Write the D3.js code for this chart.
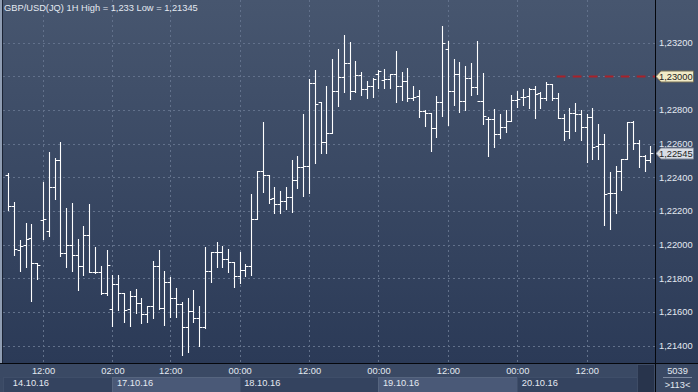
<!DOCTYPE html>
<html>
<head>
<meta charset="utf-8">
<script src="https://cdn.jsdelivr.net/npm/d3@7"></script>
<style>
html, body { margin: 0; padding: 0; background: #2e3d59; }
svg { display: block; font-family: "Liberation Sans", Arial, sans-serif; }
</style>
</head>
<body>
<svg width="698" height="392"></svg>
<script>
// GBP/USD 1H bars, 14.10.16 06:00 .. 20.10.16
const opens = [
	1.22414, 1.22229, 1.21968, 1.21996, 1.22038, 1.21889, 1.22146, 1.22081, 1.22340, 1.22501,
	1.21949, 1.21998, 1.21939, 1.21873, 1.22057, 1.21838, 1.21836, 1.21711, 1.21618, 1.21765,
	1.21711, 1.21616, 1.21694, 1.21652, 1.21587, 1.21632, 1.21872, 1.21622, 1.21778, 1.21682,
	1.21646, 1.21511, 1.21606, 1.21563, 1.21507, 1.21844, 1.21958, 1.21958, 1.21913, 1.21899,
	1.21814, 1.21848, 1.21873, 1.22151, 1.22437, 1.22412, 1.22275, 1.22240, 1.22259, 1.22281,
	1.22384, 1.22459, 1.22467, 1.22961, 1.22848, 1.22607, 1.22664, 1.22912, 1.22997, 1.23076,
	1.22912, 1.23007, 1.22922, 1.22942, 1.23010, 1.22977, 1.22981, 1.23013, 1.22942, 1.22970,
	1.22869, 1.22882, 1.22795, 1.22780, 1.22691, 1.22847, 1.23159, 1.22914, 1.23013, 1.22853,
	1.22991, 1.22937, 1.22854, 1.22744, 1.22746, 1.22655, 1.22697, 1.22734, 1.22859, 1.22878,
	1.22882, 1.22922, 1.22898, 1.22872, 1.22952, 1.22872, 1.22750, 1.22675, 1.22783, 1.22774,
	1.22700, 1.22756, 1.22586, 1.22596, 1.22305, 1.22308, 1.22437, 1.22510, 1.22730, 1.22602,
	1.22526, 1.22502
]
const highs = [
	1.22424, 1.22255, 1.22028, 1.22127, 1.22123, 1.21891, 1.22374, 1.22548, 1.22516, 1.22609,
	1.22216, 1.22245, 1.22034, 1.22111, 1.22240, 1.21986, 1.21873, 1.21968, 1.21818, 1.21818,
	1.21711, 1.21725, 1.21737, 1.21682, 1.21636, 1.21903, 1.21968, 1.21840, 1.21804, 1.21741,
	1.21656, 1.21682, 1.21731, 1.21636, 1.21984, 1.21958, 1.22014, 1.21992, 1.21974, 1.21899,
	1.21955, 1.21885, 1.22301, 1.22437, 1.22728, 1.22414, 1.22344, 1.22318, 1.22340, 1.22502,
	1.22526, 1.22775, 1.22983, 1.23037, 1.22848, 1.22943, 1.23102, 1.23161, 1.23244, 1.23205,
	1.23090, 1.23023, 1.22971, 1.22987, 1.23037, 1.23043, 1.23015, 1.23149, 1.23023, 1.23050,
	1.22942, 1.22918, 1.22799, 1.22780, 1.22882, 1.23300, 1.23209, 1.23102, 1.23082, 1.23060,
	1.23080, 1.23209, 1.23017, 1.22759, 1.22803, 1.22774, 1.22799, 1.22888, 1.22912, 1.22924,
	1.22928, 1.22942, 1.22908, 1.22967, 1.22952, 1.22902, 1.22774, 1.22813, 1.22839, 1.22799,
	1.22774, 1.22809, 1.22714, 1.22657, 1.22433, 1.22467, 1.22507, 1.22730, 1.22734, 1.22621,
	1.22532, 1.22586
]
const lows = [
	1.22206, 1.21939, 1.21840, 1.21869, 1.21667, 1.21798, 1.22032, 1.22051, 1.22271, 1.21929,
	1.21869, 1.21845, 1.21727, 1.21816, 1.21834, 1.21830, 1.21707, 1.21701, 1.21517, 1.21612,
	1.21537, 1.21517, 1.21593, 1.21533, 1.21537, 1.21563, 1.21616, 1.21523, 1.21572, 1.21569,
	1.21345, 1.21359, 1.21537, 1.21400, 1.21505, 1.21775, 1.21869, 1.21869, 1.21834, 1.21750,
	1.21771, 1.21810, 1.21816, 1.22151, 1.22314, 1.22245, 1.22190, 1.22190, 1.22212, 1.22196,
	1.22334, 1.22291, 1.22308, 1.22483, 1.22542, 1.22542, 1.22664, 1.22825, 1.22908, 1.22864,
	1.22908, 1.22888, 1.22872, 1.22878, 1.22932, 1.22928, 1.22928, 1.22848, 1.22859, 1.22853,
	1.22859, 1.22756, 1.22704, 1.22558, 1.22641, 1.22764, 1.22710, 1.22829, 1.22789, 1.22799,
	1.22888, 1.22892, 1.22714, 1.22528, 1.22581, 1.22631, 1.22667, 1.22734, 1.22815, 1.22829,
	1.22809, 1.22750, 1.22813, 1.22859, 1.22859, 1.22750, 1.22621, 1.22631, 1.22675, 1.22621,
	1.22492, 1.22508, 1.22508, 1.22117, 1.22093, 1.22186, 1.22324, 1.22507, 1.22566, 1.22463,
	1.22439, 1.22492
]
const closes = [
	1.22229, 1.21972, 1.21992, 1.22035, 1.21889, 1.21879, 1.22152, 1.22340, 1.22501, 1.21949,
	1.21998, 1.21939, 1.21873, 1.22057, 1.21838, 1.21836, 1.21711, 1.21877, 1.21765, 1.21711,
	1.21612, 1.21694, 1.21652, 1.21587, 1.21632, 1.21872, 1.21622, 1.21778, 1.21682, 1.21646,
	1.21511, 1.21606, 1.21563, 1.21507, 1.21844, 1.21958, 1.21958, 1.21913, 1.21899, 1.21810,
	1.21848, 1.21873, 1.22151, 1.22437, 1.22412, 1.22269, 1.22240, 1.22259, 1.22281, 1.22384,
	1.22459, 1.22467, 1.22961, 1.22835, 1.22607, 1.22664, 1.22912, 1.22997, 1.23076, 1.22912,
	1.23007, 1.22922, 1.22942, 1.22981, 1.23030, 1.22981, 1.23013, 1.22942, 1.22970, 1.22869,
	1.22878, 1.22795, 1.22780, 1.22691, 1.22847, 1.23195, 1.22914, 1.23013, 1.22853, 1.22991,
	1.22937, 1.22854, 1.22765, 1.22746, 1.22655, 1.22697, 1.22734, 1.22859, 1.22863, 1.22878,
	1.22922, 1.22892, 1.22872, 1.22952, 1.22869, 1.22750, 1.22675, 1.22780, 1.22774, 1.22700,
	1.22756, 1.22581, 1.22596, 1.22299, 1.22308, 1.22437, 1.22507, 1.22730, 1.22602, 1.22526,
	1.22502, 1.22545
]

const priceTicks = [1.214, 1.216, 1.218, 1.220, 1.222, 1.224, 1.226, 1.228, 1.230, 1.232]
const timeTickBars = [6, 18, 28, 40, 52, 64, 76, 88, 100]
const timeTickLabels = ['12:00', '02:00', '12:00', '00:00', '12:00', '00:00', '12:00', '00:00', '12:00']
const dayStartBars = [0, 18, 40, 64, 88]
const dayLabels = ['14.10.16', '17.10.16', '18.10.16', '19.10.16', '20.10.16']
const alertLevel = 1.23
const alertFromBar = 95
const titleText = 'GBP/USD(JQ) 1H High = 1,233 Low = 1,21345'

let config = {
	width: 698,
	height: 392,
	plotLeft: 3,
	plotRight: 655,
	plotBottom: 363,
	fontSize: 9.3,
	textColor: '#e4e9f1',
}

const svg = d3.select('svg')
const fmtPrice = d => d3.format('.5f')(d).replace('.', ',')

function createScales() {
	config.xScale = d3.scaleLinear()
		.domain([0, closes.length - 1])
		.range([8.3, 650.3])
	config.yScale = d3.scaleLinear()
		.domain([priceTicks[0], priceTicks[priceTicks.length - 1]])
		.range([345.5, 42.5])
}

function drawBackground() {
	let defs = svg.append('defs')
	let grad = defs.append('linearGradient')
		.attr('id', 'bg').attr('x1', 0).attr('y1', 0).attr('x2', 0).attr('y2', 1)
	grad.append('stop').attr('offset', '0%').attr('stop-color', '#47566f')
	grad.append('stop').attr('offset', '100%').attr('stop-color', '#2b3a57')

	defs.append('clipPath').attr('id', 'plot-clip')
		.append('rect')
		.attr('x', config.plotLeft).attr('y', 0)
		.attr('width', config.plotRight - config.plotLeft)
		.attr('height', config.plotBottom)

	svg.append('rect')
		.attr('width', config.width).attr('height', config.plotBottom)
		.attr('fill', 'url(#bg)')

	// bottom time panel
	svg.append('rect')
		.attr('x', 0).attr('y', config.plotBottom)
		.attr('width', config.width).attr('height', config.height - config.plotBottom)
		.attr('fill', '#3a4964')

	// left frame strip
	svg.append('rect')
		.attr('x', 0).attr('y', 0).attr('width', 2).attr('height', config.plotBottom)
		.attr('fill', '#8f9db3')
}

function drawGrid() {
	let grid = svg.append('g').attr('id', 'grid')
		.attr('stroke', '#62718b')
		.attr('stroke-width', 1)
		.attr('stroke-dasharray', '2,3')

	grid.selectAll('line.h')
		.data(priceTicks)
		.join('line')
		.attr('class', 'h')
		.attr('x1', config.plotLeft)
		.attr('x2', config.plotRight)
		.attr('y1', d => Math.round(config.yScale(d)) + 0.5)
		.attr('y2', d => Math.round(config.yScale(d)) + 0.5)

	grid.selectAll('line.v')
		.data(timeTickBars)
		.join('line')
		.attr('class', 'v')
		.attr('x1', d => Math.round(config.xScale(d)) + 0.5)
		.attr('x2', d => Math.round(config.xScale(d)) + 0.5)
		.attr('y1', 0)
		.attr('y2', config.plotBottom)
}

function drawAlert() {
	let y = Math.round(config.yScale(alertLevel)) + 0.5
	svg.append('line')
		.attr('x1', config.xScale(alertFromBar) - 1)
		.attr('x2', config.plotRight)
		.attr('y1', y).attr('y2', y)
		.attr('stroke', '#a8222a')
		.attr('stroke-width', 2)
		.attr('stroke-dasharray', '8.7,7.3')
}

function drawBars() {
	let tick = 2.9
	let data = closes.map((c, i) => ({ i: i, o: opens[i], h: highs[i], l: lows[i], c: c }))
	let g = svg.append('g')
		.attr('clip-path', 'url(#plot-clip)')
		.attr('stroke', '#ffffff')
		.attr('stroke-width', 1.1)
		.attr('fill', 'none')

	g.selectAll('path')
		.data(data)
		.join('path')
		.attr('d', d => {
			let x = Math.round(config.xScale(d.i)) + 0.5
			let yo = Math.round(config.yScale(d.o)) + 0.5
			let yc = Math.round(config.yScale(d.c)) + 0.5
			let yh = Math.round(config.yScale(d.h))
			let yl = Math.round(config.yScale(d.l)) + 1
			return `M${x},${yh}V${yl}M${x - tick},${yo}H${x}M${x},${yc}H${x + tick}`
		})
}

function drawPriceAxis() {
	let axis = d3.axisRight(config.yScale)
		.tickValues(priceTicks)
		.tickSize(0)
		.tickPadding(4)
		.tickFormat(fmtPrice)

	let g = svg.append('g')
		.attr('transform', `translate(${config.plotRight},0)`)
		.call(axis)
	g.select('.domain').remove()
	g.attr('font-size', config.fontSize).attr('font-family', null)
	g.selectAll('text').attr('fill', config.textColor)

	// hide the label that sits under the alert tag
	g.selectAll('.tick').filter(d => Math.abs(d - alertLevel) < 1e-9).remove()

	drawTag(alertLevel, '#f2ebc7', '#7d7458')
	drawTag(closes[closes.length - 1], '#d9dde5', '#7e8594')
}

function drawTag(value, fill, stroke) {
	let y = Math.round(config.yScale(value)) + 0.5
	let x0 = config.plotRight + 1
	svg.append('path')
		.attr('d', `M${x0},${y}L${x0 + 5},${y - 5.5}H${693.5}V${y + 5.5}H${x0 + 5}Z`)
		.attr('fill', fill)
		.attr('stroke', stroke)
		.attr('stroke-width', 1)
	svg.append('text')
		.attr('x', config.plotRight + 4)
		.attr('y', y)
		.attr('dy', '0.34em')
		.attr('font-size', config.fontSize)
		.attr('fill', '#1d1d1d')
		.text(fmtPrice(value))
}

function drawTimeAxis() {
	// day bands
	let bandTop = 377
	let bands = dayStartBars.map((b, i) => ({
		x0: i === 0 ? config.plotLeft : config.xScale(b),
		x1: i < dayStartBars.length - 1 ? config.xScale(dayStartBars[i + 1]) : 637,
		label: dayLabels[i],
		tx: config.xScale(b) + 4.5,
		light: i % 2 === 1,
	}))

	let bg = svg.append('g')
	bg.selectAll('rect')
		.data(bands)
		.join('rect')
		.attr('x', d => Math.round(d.x0) + 0.5)
		.attr('y', bandTop + 0.5)
		.attr('width', d => Math.round(d.x1) - Math.round(d.x0))
		.attr('height', config.height - bandTop)
		.attr('fill', d => d.light ? '#4a5977' : '#34435f')
		.attr('stroke', d => d.light ? '#56657f' : '#3f4e69')

	bg.selectAll('text')
		.data(bands)
		.join('text')
		.attr('x', d => d.tx)
		.attr('y', 385.7)
		.attr('font-size', config.fontSize)
		.attr('fill', config.textColor)
		.text(d => d.label)

	// dark box at the right end of the scroller
	svg.append('rect')
		.attr('x', 637.5).attr('y', 364.5)
		.attr('width', 17).attr('height', 28)
		.attr('fill', '#28344c')
		.attr('stroke', '#3e4c66')

	let axis = d3.axisBottom(config.xScale)
		.tickValues(timeTickBars)
		.tickSize(0)
		.tickPadding(4)
		.tickFormat((d, i) => timeTickLabels[i])

	let g = svg.append('g')
		.attr('transform', `translate(0,${config.plotBottom})`)
		.call(axis)
	g.select('.domain').remove()
	g.attr('font-size', config.fontSize).attr('font-family', null)
	g.selectAll('text').attr('fill', config.textColor)
}

function drawFrame() {
	svg.append('line')
		.attr('x1', 0).attr('x2', config.width)
		.attr('y1', config.plotBottom + 0.5).attr('y2', config.plotBottom + 0.5)
		.attr('stroke', '#05070c').attr('stroke-width', 1)
	svg.append('line')
		.attr('x1', config.plotRight + 0.5).attr('x2', config.plotRight + 0.5)
		.attr('y1', 0).attr('y2', config.height)
		.attr('stroke', '#05070c').attr('stroke-width', 1)
	svg.append('line')
		.attr('x1', 2.5).attr('x2', 2.5)
		.attr('y1', 0).attr('y2', config.plotBottom)
		.attr('stroke', '#1a2233').attr('stroke-width', 1)

	// bar counter in the corner
	let cx = 677.5
	svg.append('text')
		.attr('x', cx).attr('y', 374.3)
		.attr('text-anchor', 'middle')
		.attr('font-size', config.fontSize)
		.attr('fill', config.textColor)
		.text('5039')
	svg.append('line')
		.attr('x1', 663).attr('x2', 692)
		.attr('y1', 377.5).attr('y2', 377.5)
		.attr('stroke', '#7d8aa0')
	svg.append('text')
		.attr('x', cx).attr('y', 387.6)
		.attr('text-anchor', 'middle')
		.attr('font-size', config.fontSize)
		.attr('fill', config.textColor)
		.text('>113<')
}

function drawTitle() {
	svg.append('text')
		.attr('x', 4).attr('y', 11)
		.attr('font-size', config.fontSize)
		.attr('fill', config.textColor)
		.text(titleText)
}

function app() {
	createScales()
	drawBackground()
	drawGrid()
	drawAlert()
	drawBars()
	drawPriceAxis()
	drawTimeAxis()
	drawFrame()
	drawTitle()
}

app()
</script>
</body>
</html>
